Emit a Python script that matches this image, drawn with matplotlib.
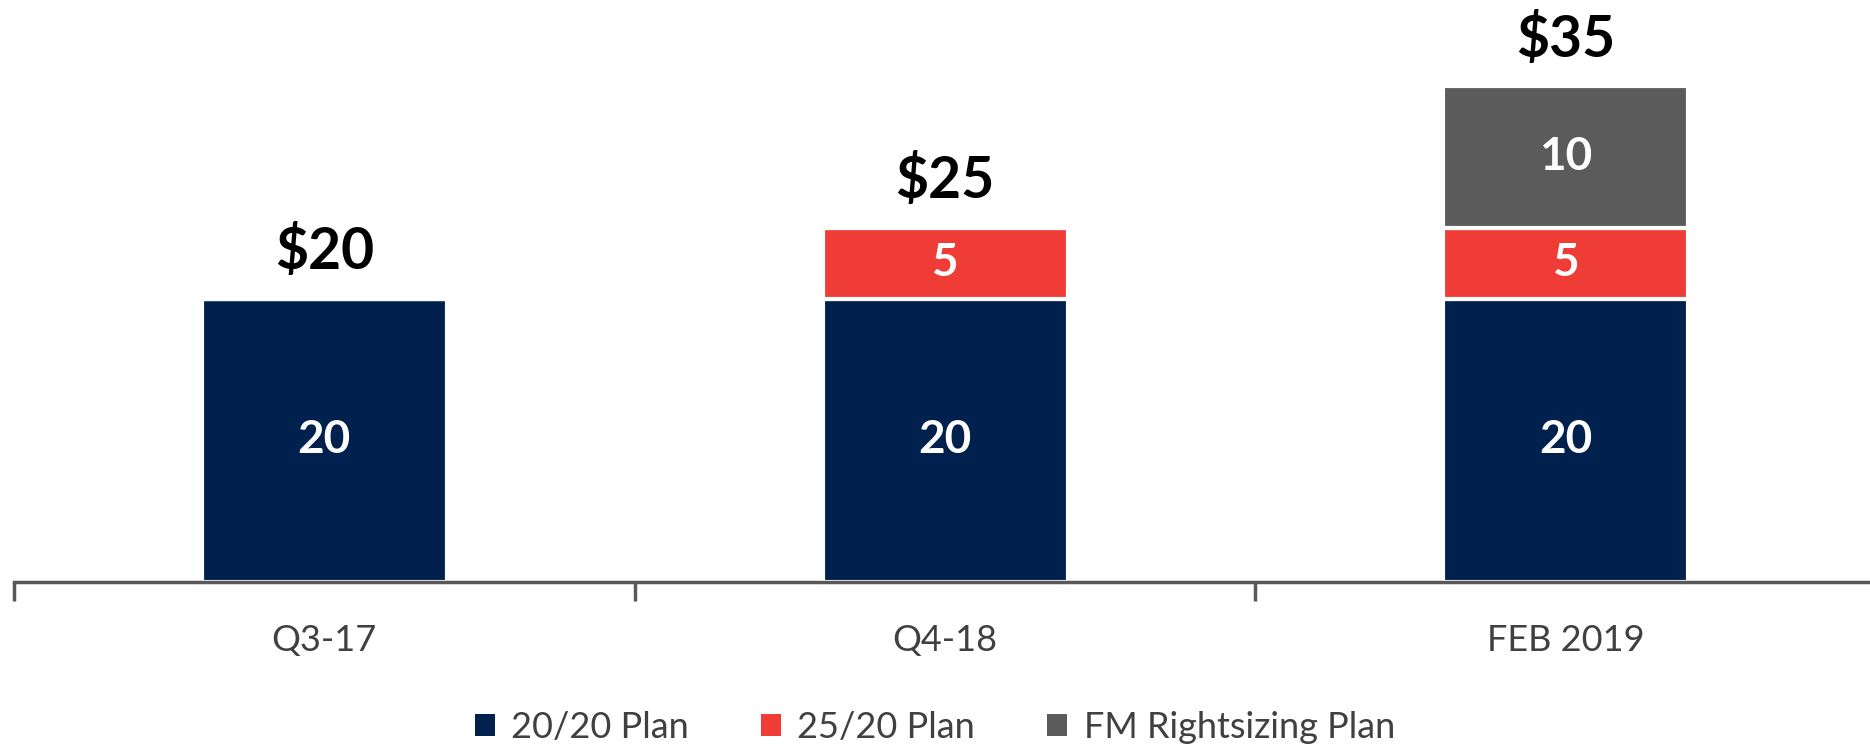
import matplotlib.pyplot as plt
import numpy as np

plt.rcParams['font.family'] = ['Lato', 'DejaVu Sans']

# Data
categories = ['Q3-17', 'Q4-18', 'FEB 2019']
plan_2020 = [20, 20, 20]
plan_2520 = [0, 5, 5]
fm_rightsizing = [0, 0, 10]
series_names = ['20/20 Plan', '25/20 Plan', 'FM Rightsizing Plan']
colors = ['#00204E', '#F03C36', '#5B5B5B']

fig = plt.figure(figsize=(18.7, 7.46), dpi=100)
ax = fig.add_axes([14 / 1870, 1 - 582 / 746, 1 - 14 / 1870, 582 / 746])

x = np.arange(len(categories))
width = 0.395
bottom = np.zeros(len(categories))
for vals, name, col in zip([plan_2020, plan_2520, fm_rightsizing], series_names, colors):
    vals = np.array(vals, dtype=float)
    ax.bar(x, vals, width, bottom=bottom, color=col, label=name,
           edgecolor='white', linewidth=3)
    for xi, v, b in zip(x, vals, bottom):
        if v > 0:
            ax.text(xi, b + v / 2, f'{v:g}', ha='center', va='center',
                    color='white', fontsize=33, fontweight='bold')
    bottom += vals

# totals above each stack
for xi, tot in zip(x, bottom):
    ax.text(xi, tot + 3.3, f'${tot:g}', ha='center', va='center',
            color='black', fontsize=41, fontweight='bold')

ax.set_xlim(-0.5, 2.49)
ax.set_ylim(0, 41.1)
ax.set_yticks([])
for side in ['top', 'right', 'left']:
    ax.spines[side].set_visible(False)
ax.spines['bottom'].set_color('#595959')
ax.spines['bottom'].set_linewidth(2.5)

# boundary ticks between categories, labels at centres
ax.set_xticks([-0.5, 0.5, 1.5])
ax.set_xticklabels([])
ax.tick_params(axis='x', which='major', direction='out', length=14,
               width=2.5, color='#595959')
ax.set_xticks(x, minor=True)
ax.set_xticklabels(categories, minor=True)
ax.tick_params(axis='x', which='minor', length=0, pad=30,
               labelsize=26, labelcolor='#404040')

leg = fig.legend(loc='center', bbox_to_anchor=(0.5, 1 - 727 / 746), ncol=3,
                 frameon=False, fontsize=26, handlelength=0.55, handleheight=0.55,
                 handletextpad=0.45, columnspacing=2.0)
for t in leg.get_texts():
    t.set_color('#404040')
for h in leg.legend_handles:
    h.set_linewidth(0)

fig.savefig('out.png', dpi=100)
